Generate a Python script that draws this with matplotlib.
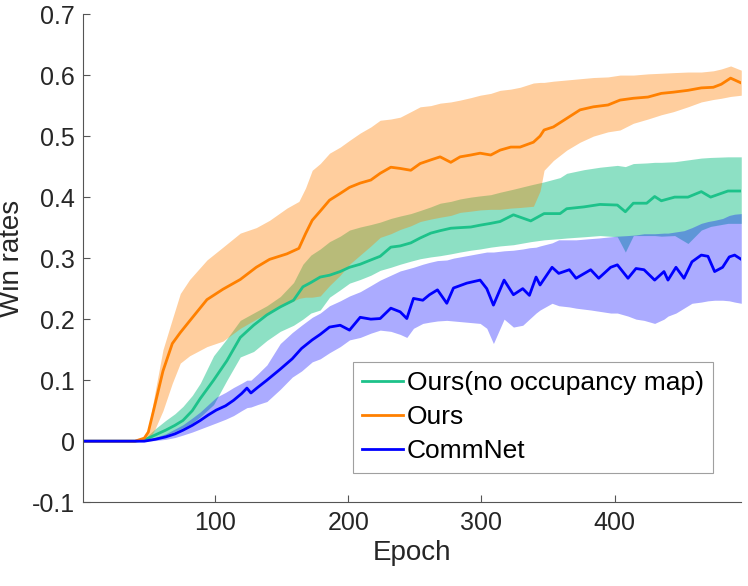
import matplotlib
matplotlib.use('Agg')
import matplotlib.pyplot as plt
import numpy as np

# Ours (orange)
ours_ep = [1, 40, 47, 50, 55, 61, 68, 74, 81, 94, 106, 119, 131, 141, 154, 163, 168, 173, 179, 186,
           194, 201, 209, 217, 224, 232, 239, 247, 254, 262, 269, 277, 284, 292, 299, 307, 314, 322, 329, 339,
           344, 347, 354, 364, 374, 384, 395, 404, 414, 425, 435, 444, 455, 465, 474, 480, 487, 495]
ours_mean = [0, 0, 0.005, 0.015, 0.06, 0.115, 0.16, 0.178, 0.197, 0.232, 0.249, 0.265, 0.285, 0.298, 0.307, 0.316, 0.34, 0.362, 0.377, 0.395,
             0.406, 0.416, 0.423, 0.428, 0.439, 0.449, 0.447, 0.444, 0.455, 0.461, 0.466, 0.457, 0.466, 0.469, 0.472, 0.469, 0.477, 0.482, 0.482, 0.49,
             0.5, 0.51, 0.515, 0.529, 0.543, 0.548, 0.551, 0.559, 0.562, 0.564, 0.57, 0.572, 0.575, 0.579, 0.58, 0.585, 0.595, 0.587]
ours_hi = [0, 0, 0.008, 0.02, 0.08, 0.15, 0.2, 0.242, 0.265, 0.297, 0.318, 0.341, 0.35, 0.362, 0.382, 0.393, 0.415, 0.444, 0.455, 0.472,
           0.482, 0.493, 0.505, 0.515, 0.526, 0.528, 0.531, 0.54, 0.548, 0.55, 0.554, 0.556, 0.559, 0.563, 0.567, 0.57, 0.575, 0.577, 0.58, 0.587,
           0.588, 0.588, 0.59, 0.592, 0.594, 0.596, 0.597, 0.6, 0.6, 0.602, 0.603, 0.604, 0.605, 0.605, 0.607, 0.61, 0.615, 0.608]
ours_lo = [0, 0, 0.002, 0.0, 0.02, 0.05, 0.095, 0.128, 0.14, 0.155, 0.164, 0.185, 0.2, 0.212, 0.225, 0.234, 0.236, 0.236, 0.238, 0.255,
           0.272, 0.29, 0.305, 0.32, 0.334, 0.34, 0.347, 0.353, 0.36, 0.364, 0.367, 0.37, 0.375, 0.377, 0.379, 0.38, 0.38, 0.382, 0.383, 0.385,
           0.41, 0.444, 0.46, 0.477, 0.49, 0.5, 0.507, 0.51, 0.521, 0.528, 0.535, 0.54, 0.548, 0.556, 0.56, 0.562, 0.565, 0.567]

# Ours(no occupancy map) (green)
noocc_ep = [1, 40, 47, 55, 63, 70, 76, 83, 89, 99, 109, 119, 129, 139, 149, 159, 166, 172, 179, 186,
            194, 201, 209, 217, 224, 232, 239, 247, 254, 262, 269, 277, 284, 292, 299, 307, 314, 324, 337, 347,
            359, 364, 377, 389, 402, 408, 414, 424, 430, 435, 445, 455, 465, 472, 485, 495]
noocc_mean = [0, 0, 0.002, 0.01, 0.018, 0.026, 0.034, 0.05, 0.07, 0.1, 0.132, 0.17, 0.19, 0.207, 0.22, 0.231, 0.253, 0.26, 0.269, 0.272,
              0.278, 0.285, 0.29, 0.297, 0.303, 0.318, 0.32, 0.325, 0.333, 0.341, 0.345, 0.349, 0.35, 0.351, 0.354, 0.357, 0.36, 0.371, 0.361, 0.373,
              0.373, 0.381, 0.384, 0.388, 0.387, 0.376, 0.39, 0.39, 0.401, 0.394, 0.4, 0.4, 0.409, 0.4, 0.41, 0.41]
noocc_hi = [0, 0, 0.004, 0.02, 0.034, 0.045, 0.057, 0.075, 0.095, 0.14, 0.168, 0.198, 0.21, 0.222, 0.237, 0.26, 0.29, 0.305, 0.315, 0.327,
            0.336, 0.346, 0.351, 0.355, 0.359, 0.365, 0.369, 0.373, 0.378, 0.384, 0.39, 0.393, 0.397, 0.40, 0.402, 0.404, 0.408, 0.413, 0.42, 0.425,
            0.432, 0.439, 0.445, 0.449, 0.452, 0.45, 0.455, 0.456, 0.457, 0.457, 0.458, 0.461, 0.464, 0.465, 0.466, 0.466]
noocc_lo = [0, 0, 0, 0.004, 0.01, 0.016, 0.022, 0.03, 0.04, 0.06, 0.1, 0.138, 0.147, 0.165, 0.18, 0.19, 0.2, 0.21, 0.215, 0.236,
            0.248, 0.259, 0.265, 0.272, 0.28, 0.285, 0.29, 0.295, 0.299, 0.302, 0.304, 0.307, 0.31, 0.313, 0.315, 0.318, 0.32, 0.322, 0.327, 0.33,
            0.332, 0.333, 0.335, 0.337, 0.335, 0.31, 0.337, 0.337, 0.337, 0.336, 0.337, 0.324, 0.346, 0.352, 0.357, 0.357]

# CommNet (blue)
comm_ep = [1, 40, 47, 55, 63, 70, 76, 83, 89, 95, 101, 108, 114, 120, 124, 127, 132, 139, 149, 158,
           165, 173, 179, 186, 194, 201, 209, 217, 224, 232, 239, 244, 249, 256, 261, 267, 274, 279, 289, 299,
           304, 309, 317, 324, 331, 336, 341, 344, 353, 358, 366, 371, 382, 388, 397, 402, 410, 416, 422, 430,
           437, 440, 446, 452, 458, 465, 470, 475, 481, 486, 490, 495]
comm_mean = [0, 0, 0, 0.003, 0.007, 0.012, 0.018, 0.026, 0.034, 0.043, 0.051, 0.058, 0.067, 0.078, 0.087, 0.079, 0.088, 0.1, 0.118, 0.135,
             0.152, 0.166, 0.175, 0.187, 0.19, 0.182, 0.203, 0.2, 0.201, 0.218, 0.212, 0.201, 0.234, 0.231, 0.24, 0.248, 0.226, 0.251, 0.259, 0.264,
             0.25, 0.223, 0.264, 0.24, 0.25, 0.239, 0.269, 0.256, 0.285, 0.275, 0.281, 0.267, 0.281, 0.267, 0.285, 0.289, 0.267, 0.283, 0.281, 0.264,
             0.278, 0.264, 0.285, 0.267, 0.294, 0.305, 0.303, 0.278, 0.285, 0.302, 0.305, 0.298]
comm_hi = [0, 0, 0.002, 0.006, 0.012, 0.02, 0.027, 0.038, 0.048, 0.06, 0.072, 0.08, 0.088, 0.095, 0.1, 0.1, 0.11, 0.125, 0.16, 0.178,
           0.19, 0.203, 0.21, 0.222, 0.23, 0.238, 0.245, 0.255, 0.264, 0.272, 0.279, 0.282, 0.285, 0.29, 0.293, 0.296, 0.297, 0.3, 0.304, 0.308,
           0.31, 0.31, 0.312, 0.313, 0.315, 0.317, 0.318, 0.32, 0.325, 0.33, 0.33, 0.33, 0.332, 0.333, 0.335, 0.336, 0.337, 0.338, 0.34, 0.34,
           0.341, 0.341, 0.343, 0.345, 0.35, 0.357, 0.36, 0.362, 0.365, 0.37, 0.372, 0.373]
comm_lo = [0, 0, 0, 0.001, 0.003, 0.006, 0.01, 0.015, 0.02, 0.025, 0.03, 0.036, 0.042, 0.05, 0.055, 0.056, 0.06, 0.065, 0.085, 0.105,
           0.115, 0.13, 0.135, 0.145, 0.155, 0.166, 0.17, 0.177, 0.182, 0.18, 0.175, 0.17, 0.185, 0.193, 0.195, 0.197, 0.198, 0.197, 0.195, 0.193,
           0.185, 0.16, 0.2, 0.187, 0.19, 0.2, 0.21, 0.215, 0.226, 0.222, 0.22, 0.218, 0.215, 0.213, 0.21, 0.21, 0.205, 0.2, 0.198, 0.193,
           0.2, 0.205, 0.21, 0.218, 0.226, 0.228, 0.23, 0.231, 0.231, 0.23, 0.228, 0.226]

series = [
    ('Ours(no occupancy map)', noocc_ep, noocc_mean, noocc_lo, noocc_hi, '#1DC28A', 0.5),
    ('Ours', ours_ep, ours_mean, ours_lo, ours_hi, '#FF8000', 0.38),
    ('CommNet', comm_ep, comm_mean, comm_lo, comm_hi, '#0000FF', 0.33),
]

plt.rcParams['font.family'] = ['Liberation Sans', 'DejaVu Sans']

fig = plt.figure(figsize=(7.48, 5.86), dpi=100)
ax = fig.add_axes([0.111, 0.143, 0.88, 0.833])

for name, ep, m, lo, hi, col, a in series:
    ax.fill_between(ep, lo, hi, color=col, alpha=a, lw=0)
    ax.plot(ep, m, color=col, lw=2, label=name)

ax.set_xlim(1, 495)
ax.set_ylim(-0.1, 0.7)
ax.set_xticks([100, 200, 300, 400])
yt = np.round(np.arange(-0.1, 0.71, 0.1), 1)
ax.set_yticks(yt)
ax.set_yticklabels(['0' if v == 0 else f'{v:g}' for v in yt])

for s in ['top', 'right']:
    ax.spines[s].set_visible(False)
for s in ['left', 'bottom']:
    ax.spines[s].set_color('#555555')
    ax.spines[s].set_linewidth(0.8)
ax.tick_params(direction='in', length=5, width=0.8, color='#555555',
               labelsize=18, labelcolor='#262626', pad=6)

ax.set_xlabel('Epoch', fontsize=20, color='#262626', labelpad=4)
ax.set_ylabel('Win rates', fontsize=20, color='#262626')
ax.yaxis.set_label_coords(-0.088, 0.5)

leg = ax.legend(loc='upper left', bbox_to_anchor=(0.41, 0.287), fontsize=19,
                frameon=True, fancybox=False, handlelength=1.55, handletextpad=0.15,
                borderpad=0.35, labelspacing=0.38, borderaxespad=0)
leg.get_frame().set_edgecolor('#888888')
leg.get_frame().set_linewidth(0.8)

fig.savefig('out.png', dpi=100)
